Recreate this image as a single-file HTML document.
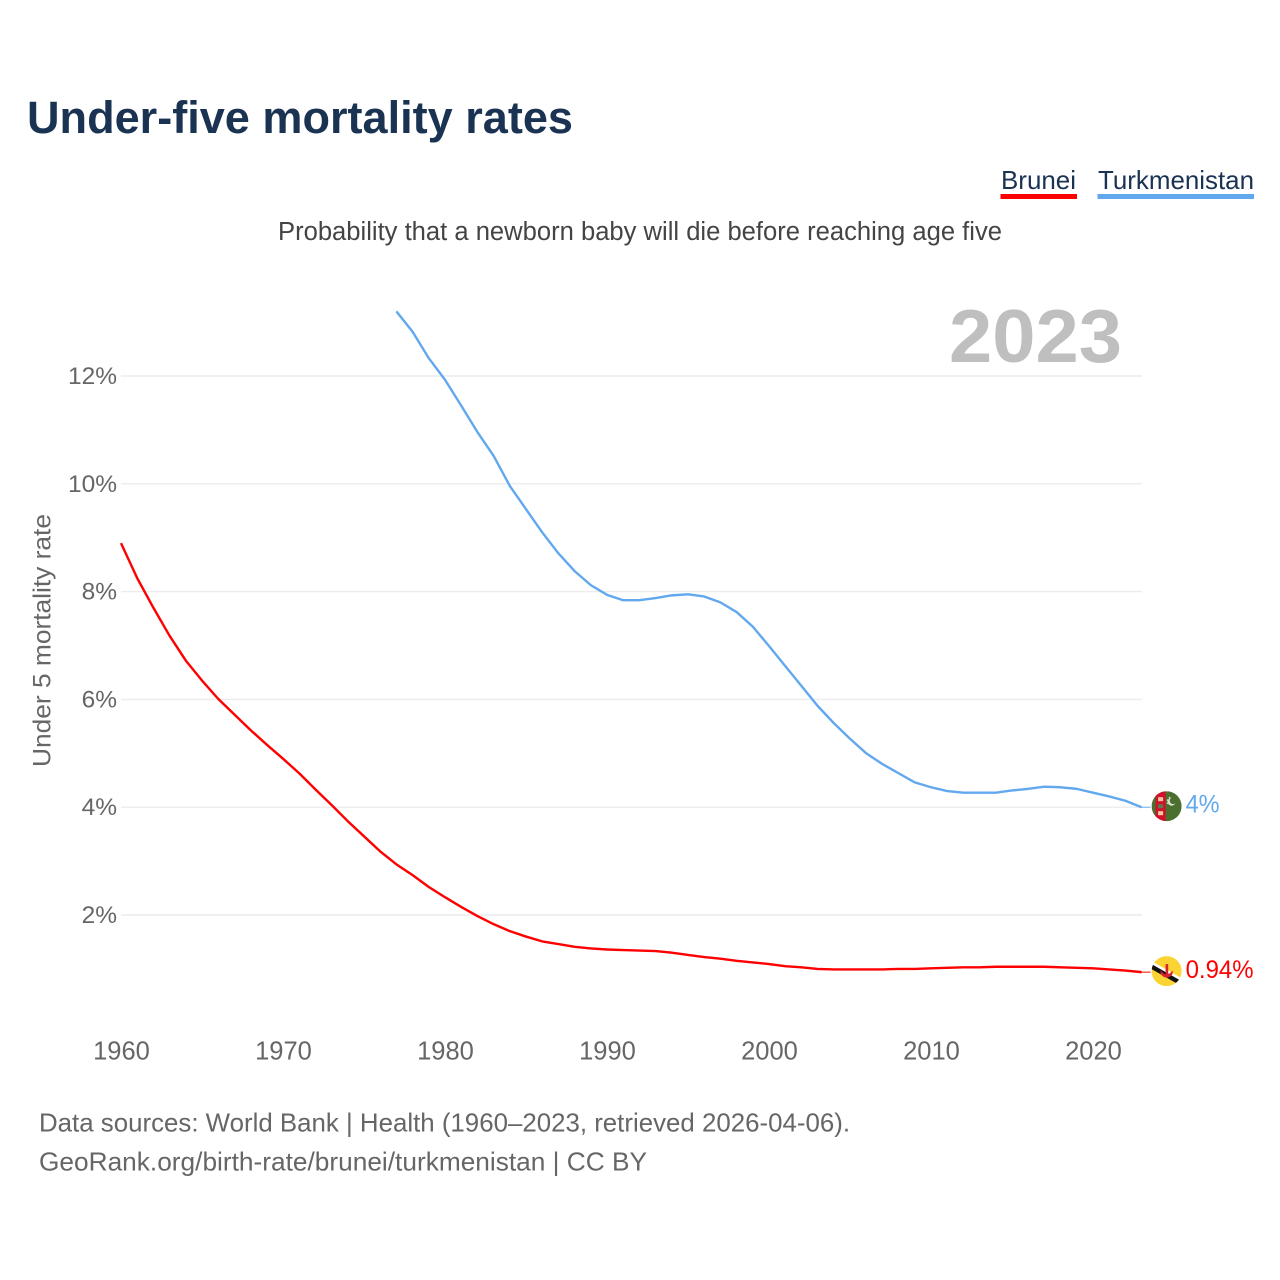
<!DOCTYPE html>
<html lang="en">
<head>
<meta charset="utf-8">
<title>Under-five mortality rates</title>
<style>
html,body{margin:0;padding:0;background:#fff;width:1280px;height:1280px;overflow:hidden}
svg{display:block;font-family:"Liberation Sans",sans-serif}
</style>
</head>
<body>
<svg id="chart" xmlns="http://www.w3.org/2000/svg" width="1280" height="1280" viewBox="0 0 1280 1280">
  <defs>
    <clipPath id="flag-clip-a"><circle cx="0" cy="0" r="15"/></clipPath>
  </defs>
  <rect x="0" y="0" width="1280" height="1280" fill="#fff"/>
  <text x="27" y="133" font-size="45" font-weight="700" fill="#1a3353" textLength="546" lengthAdjust="spacingAndGlyphs">Under-five mortality rates</text>

  <g>
    <text x="1001" y="189" font-size="26" fill="#1a3353" textLength="75" lengthAdjust="spacingAndGlyphs">Brunei</text>
    <rect x="1000.5" y="194" width="76.5" height="5" fill="#ff0000"/>
  </g>
  <g>
    <text x="1098" y="189" font-size="26" fill="#1a3353" textLength="156" lengthAdjust="spacingAndGlyphs">Turkmenistan</text>
    <rect x="1097.5" y="194" width="156.5" height="5" fill="#62a8ee"/>
  </g>

  <text x="278" y="240" font-size="25.5" fill="#444" textLength="724" lengthAdjust="spacingAndGlyphs">Probability that a newborn baby will die before reaching age five</text>
  <text x="949" y="362" font-size="75" font-weight="700" fill="#bfbfbf" textLength="173" lengthAdjust="spacingAndGlyphs">2023</text>

  <g id="grid"></g>
  <g id="y-axis"></g>
  <g id="x-axis"></g>
  <text transform="translate(50.5,767) rotate(-90)" x="0" y="0" font-size="25" fill="#666" textLength="253" lengthAdjust="spacingAndGlyphs">Under 5 mortality rate</text>
  <g id="series"></g>

  <g id="flag-turkmenistan">
    <g clip-path="url(#flag-clip-a)">
      <rect x="-15" y="-15" width="30" height="30" fill="#4a6f2f"/>
      <rect x="-11" y="-15" width="10" height="30" fill="#d2102c"/>
      <rect x="-8.5" y="-9" width="5" height="4" fill="#e8c9a0"/>
      <rect x="-8.5" y="-2" width="5" height="4" fill="#5d7a4a"/>
      <rect x="-8.5" y="5" width="5" height="4" fill="#f0d0a0"/>
      <circle cx="5" cy="-4.5" r="4" fill="#dfe6d6"/>
      <circle cx="6.5" cy="-5.5" r="3.4" fill="#4a6f2f"/>
      <circle cx="1" cy="-6" r="0.9" fill="#cfd8c5"/>
      <circle cx="3" cy="-8.5" r="0.9" fill="#cfd8c5"/>
      <circle cx="1" cy="-3" r="0.9" fill="#cfd8c5"/>
    </g>
  </g>
  <g id="flag-brunei">
    <g clip-path="url(#flag-clip-a)">
      <rect x="-15" y="-15" width="30" height="30" fill="#fbd434"/>
      <polygon points="-15,-10 -15,-5 15,12 15,7" fill="#ffffff"/>
      <polygon points="-15,-7 -15,-2 15,15 15,10" fill="#111"/>
      <rect x="-1" y="-7" width="2.6" height="12" fill="#d9202c"/>
      <path d="M-6,-1 Q0,8 6,-1 L6,3 Q0,10 -6,3 Z" fill="#d9202c"/>
    </g>
  </g>
  <g id="end-labels"></g>

  <text x="39" y="1131.5" font-size="26" fill="#666" textLength="811" lengthAdjust="spacingAndGlyphs">Data sources: World Bank | Health (1960–2023, retrieved 2026-04-06).</text>
  <text x="39" y="1170.5" font-size="26" fill="#666" textLength="608" lengthAdjust="spacingAndGlyphs">GeoRank.org/birth-rate/brunei/turkmenistan | CC BY</text>
</svg>

<script>
const yTicks = [2, 4, 6, 8, 10, 12];
const xTicks = [1960, 1970, 1980, 1990, 2000, 2010, 2020];
const bruneiStartYear = 1960;
const bruneiValues = [8.90,8.25,7.70,7.18,6.72,6.35,6.01,5.72,5.43,5.16,4.90,4.63,4.33,4.04,3.74,3.46,3.18,2.94,2.74,2.52,2.33,2.15,1.98,1.83,1.70,1.60,1.51,1.46,1.41,1.38,1.36,1.35,1.34,1.33,1.30,1.26,1.22,1.19,1.15,1.12,1.09,1.05,1.03,1.00,0.99,0.99,0.99,0.99,1.00,1.00,1.01,1.02,1.03,1.03,1.04,1.04,1.04,1.04,1.03,1.02,1.01,0.99,0.97,0.94];
const turkmenistanStartYear = 1977;
const turkmenistanValues = [13.20,12.82,12.33,11.93,11.45,10.96,10.52,9.96,9.53,9.10,8.71,8.38,8.12,7.94,7.84,7.84,7.88,7.93,7.95,7.91,7.80,7.62,7.35,6.99,6.62,6.25,5.88,5.56,5.27,5.00,4.80,4.63,4.46,4.37,4.30,4.27,4.27,4.27,4.31,4.34,4.38,4.37,4.34,4.27,4.20,4.12,4.00];
const bruneiEndLabel = "0.94%";
const turkmenistanEndLabel = "4%";

const SVG_NS = "http://www.w3.org/2000/svg";
function xScale(year) { return 121 + (year - 1960) * 16.2; }
function yScale(value) { return 1022.8 - value * 53.9; }
function make(tag, attrs, text) {
  const el = document.createElementNS(SVG_NS, tag);
  for (const k in attrs) el.setAttribute(k, attrs[k]);
  if (text !== undefined) el.textContent = text;
  return el;
}

const grid = document.getElementById("grid");
const yAxis = document.getElementById("y-axis");
const xAxis = document.getElementById("x-axis");
const seriesGroup = document.getElementById("series");
const endLabels = document.getElementById("end-labels");

yTicks.forEach(function (t) {
  const line = make("line", { x1: 121, x2: 1142, y1: yScale(t), y2: yScale(t), stroke: "#ececec", "stroke-width": 1.4 });
  
  
  grid.appendChild(line);
  const label = make("text", { x: 117, y: yScale(t) + 8, "text-anchor": "end", "font-size": 24.5, fill: "#666" }, t + "%");
  
  
  yAxis.appendChild(label);
});

xTicks.forEach(function (t) {
  const label = make("text", { x: xScale(t) + 0.5, y: 1059.5, "text-anchor": "middle", "font-size": 25.5, fill: "#666" }, String(t));
  
  
  xAxis.appendChild(label);
});

function pathFor(startYear, values) {
  return values.map(function (v, i) {
    return (i ? "L" : "M") + xScale(startYear + i).toFixed(2) + " " + yScale(v).toFixed(2);
  }).join(" ");
}

const bruneiPath = make("path", { d: pathFor(bruneiStartYear, bruneiValues), fill: "none", stroke: "#ff0000", "stroke-width": 2.4, "stroke-linejoin": "round" });


seriesGroup.appendChild(bruneiPath);

const turkmenistanPath = make("path", { d: pathFor(turkmenistanStartYear, turkmenistanValues), fill: "none", stroke: "#62a8ee", "stroke-width": 2.4, "stroke-linejoin": "round" });


seriesGroup.appendChild(turkmenistanPath);

const bruneiLast = bruneiValues[bruneiValues.length - 1];
const turkmenistanLast = turkmenistanValues[turkmenistanValues.length - 1];
const lastX = xScale(bruneiStartYear + bruneiValues.length - 1);

const bruneiConnector = make("line", { x1: lastX, x2: lastX + 9, y1: yScale(bruneiLast), y2: yScale(bruneiLast), stroke: "#ff0000", "stroke-width": 1 });


seriesGroup.appendChild(bruneiConnector);

const turkmenistanConnector = make("line", { x1: lastX, x2: lastX + 9, y1: yScale(turkmenistanLast), y2: yScale(turkmenistanLast), stroke: "#62a8ee", "stroke-width": 1 });


seriesGroup.appendChild(turkmenistanConnector);

document.getElementById("flag-brunei").setAttribute("transform", "translate(" + (lastX + 25) + "," + (yScale(bruneiLast) - 1) + ")");
document.getElementById("flag-turkmenistan").setAttribute("transform", "translate(" + (lastX + 25) + "," + (yScale(turkmenistanLast) - 1) + ")");

const bruneiLabel = make("text", { x: lastX + 44, y: yScale(bruneiLast) + 6, "font-size": 25, fill: "#ff0000", textLength: 68, lengthAdjust: "spacingAndGlyphs" }, bruneiEndLabel);


endLabels.appendChild(bruneiLabel);

const turkmenistanLabel = make("text", { x: lastX + 44, y: yScale(turkmenistanLast) + 5.5, "font-size": 25, fill: "#62a8ee", textLength: 34, lengthAdjust: "spacingAndGlyphs" }, turkmenistanEndLabel);


endLabels.appendChild(turkmenistanLabel);
</script>
</body>
</html>
